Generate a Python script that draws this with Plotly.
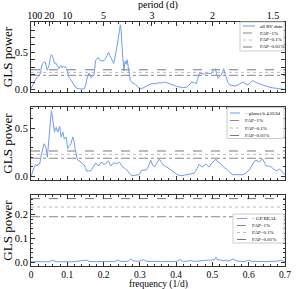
import plotly.graph_objects as go

# ---------------- data ----------------
freq_all = [0.000, 0.004, 0.008, 0.012, 0.017, 0.021, 0.026, 0.030, 0.034, 0.039, 0.042, 0.045, 0.048, 0.050,
            0.053, 0.056, 0.058, 0.060, 0.063, 0.065, 0.068, 0.071, 0.074, 0.077, 0.080, 0.083, 0.086, 0.089,
            0.092, 0.095, 0.098, 0.101, 0.104, 0.107, 0.110, 0.115, 0.120, 0.124, 0.130, 0.138, 0.147, 0.151,
            0.154, 0.157, 0.160, 0.163, 0.166, 0.170, 0.174, 0.176, 0.178, 0.182, 0.186, 0.189, 0.192, 0.196,
            0.199, 0.202, 0.206, 0.210, 0.214, 0.217, 0.220, 0.224, 0.228, 0.231, 0.235, 0.238, 0.241, 0.244,
            0.246, 0.248, 0.250, 0.253, 0.256, 0.259, 0.262, 0.265, 0.268, 0.271, 0.274, 0.278, 0.283, 0.288,
            0.293, 0.298, 0.305, 0.312, 0.320, 0.328, 0.336, 0.344, 0.352, 0.360, 0.368, 0.376, 0.384, 0.392,
            0.400, 0.410, 0.420, 0.430, 0.438, 0.443, 0.450, 0.456, 0.460, 0.464, 0.468, 0.472, 0.476, 0.480,
            0.485, 0.490, 0.495, 0.500, 0.504, 0.508, 0.512, 0.516, 0.520, 0.524, 0.528, 0.531, 0.534, 0.538,
            0.543, 0.548, 0.555, 0.562, 0.570, 0.578, 0.584, 0.590, 0.598, 0.604, 0.611, 0.618, 0.625, 0.632,
            0.639, 0.648, 0.657, 0.668, 0.680, 0.690, 0.700]
power_all = [0.01, 0.05, 0.10, 0.13, 0.16, 0.18, 0.22, 0.33, 0.36, 0.37, 0.31, 0.26, 0.30, 0.33,
             0.42, 0.47, 0.46, 0.44, 0.38, 0.35, 0.36, 0.33, 0.30, 0.28, 0.31, 0.32, 0.29, 0.31,
             0.30, 0.31, 0.28, 0.22, 0.17, 0.15, 0.13, 0.09, 0.06, 0.02, 0.01, 0.005, 0.01, 0.06,
             0.14, 0.19, 0.22, 0.19, 0.16, 0.18, 0.20, 0.30, 0.39, 0.42, 0.43, 0.40, 0.38, 0.40,
             0.38, 0.40, 0.42, 0.46, 0.50, 0.46, 0.43, 0.38, 0.35, 0.42, 0.52, 0.58, 0.70, 0.80,
             0.87, 0.82, 0.62, 0.42, 0.25, 0.38, 0.34, 0.40, 0.30, 0.22, 0.12, 0.09, 0.08, 0.07,
             0.04, 0.02, 0.01, 0.03, 0.05, 0.07, 0.08, 0.075, 0.09, 0.085, 0.10, 0.09, 0.07, 0.06,
             0.04, 0.03, 0.025, 0.03, 0.07, 0.10, 0.09, 0.08, 0.15, 0.22, 0.21, 0.22, 0.20, 0.22,
             0.21, 0.22, 0.21, 0.23, 0.26, 0.28, 0.20, 0.15, 0.18, 0.19, 0.24, 0.28, 0.22, 0.15,
             0.09, 0.06, 0.05, 0.045, 0.06, 0.08, 0.10, 0.08, 0.06, 0.09, 0.12, 0.10, 0.08, 0.07,
             0.06, 0.04, 0.03, 0.02, 0.015, 0.01, 0.0]

freq_b = [0.000, 0.004, 0.008, 0.013, 0.017, 0.020, 0.024, 0.027, 0.030, 0.033, 0.036, 0.039, 0.042, 0.045,
          0.048, 0.050, 0.053, 0.056, 0.058, 0.061, 0.063, 0.065, 0.067, 0.070, 0.072, 0.074, 0.077, 0.079,
          0.081, 0.083, 0.086, 0.088, 0.090, 0.092, 0.095, 0.097, 0.099, 0.101, 0.104, 0.106, 0.110, 0.113,
          0.115, 0.117, 0.119, 0.122, 0.124, 0.127, 0.129, 0.133, 0.138, 0.142, 0.147, 0.150, 0.154, 0.159,
          0.165, 0.170, 0.174, 0.178, 0.182, 0.187, 0.191, 0.196, 0.200, 0.205, 0.209, 0.214, 0.217, 0.220,
          0.224, 0.228, 0.232, 0.237, 0.241, 0.246, 0.250, 0.255, 0.260, 0.264, 0.270, 0.277, 0.284, 0.291,
          0.298, 0.305, 0.312, 0.318, 0.323, 0.330, 0.335, 0.340, 0.345, 0.350, 0.354, 0.359, 0.364, 0.368,
          0.374, 0.381, 0.390, 0.400, 0.407, 0.414, 0.423, 0.432, 0.441, 0.450, 0.457, 0.464, 0.468, 0.473,
          0.478, 0.482, 0.487, 0.492, 0.498, 0.504, 0.510, 0.515, 0.520, 0.524, 0.530, 0.538, 0.546, 0.556,
          0.565, 0.575, 0.584, 0.593, 0.602, 0.608, 0.614, 0.620, 0.625, 0.629, 0.634, 0.639, 0.644, 0.648,
          0.655, 0.662, 0.668, 0.676, 0.681, 0.685, 0.690, 0.695, 0.700]
power_b = [0.00, 0.05, 0.09, 0.126, 0.11, 0.13, 0.13, 0.20, 0.27, 0.30, 0.34, 0.31, 0.29, 0.20,
           0.33, 0.41, 0.55, 0.68, 0.64, 0.58, 0.50, 0.46, 0.50, 0.51, 0.47, 0.46, 0.50, 0.52,
           0.46, 0.41, 0.44, 0.46, 0.42, 0.39, 0.40, 0.41, 0.35, 0.29, 0.31, 0.32, 0.34, 0.38,
           0.41, 0.39, 0.36, 0.28, 0.22, 0.19, 0.17, 0.16, 0.15, 0.13, 0.12, 0.09, 0.056, 0.06,
           0.06, 0.09, 0.11, 0.14, 0.13, 0.11, 0.14, 0.15, 0.13, 0.13, 0.15, 0.16, 0.13, 0.11,
           0.13, 0.14, 0.14, 0.13, 0.15, 0.14, 0.11, 0.09, 0.08, 0.07, 0.04, 0.01, 0.012, 0.015,
           0.02, 0.065, 0.07, 0.07, 0.10, 0.17, 0.12, 0.10, 0.13, 0.16, 0.18, 0.15, 0.12, 0.11,
           0.10, 0.08, 0.05, 0.03, 0.015, 0.01, 0.015, 0.02, 0.025, 0.035, 0.08, 0.13, 0.11, 0.10,
           0.12, 0.13, 0.11, 0.10, 0.14, 0.16, 0.18, 0.15, 0.14, 0.13, 0.10, 0.08, 0.05, 0.02,
           0.02, 0.02, 0.02, 0.04, 0.07, 0.11, 0.15, 0.17, 0.16, 0.15, 0.17, 0.18, 0.14, 0.11,
           0.11, 0.10, 0.08, 0.06, 0.07, 0.08, 0.06, 0.04, 0.02]

freq_gp = [0.000, 0.010, 0.020, 0.030, 0.040, 0.050, 0.060, 0.065, 0.070, 0.080, 0.090, 0.100, 0.110, 0.120,
           0.130, 0.140, 0.155, 0.160, 0.170, 0.180, 0.190, 0.200, 0.210, 0.220, 0.230, 0.240, 0.245, 0.250,
           0.260, 0.270, 0.275, 0.280, 0.290, 0.300, 0.310, 0.315, 0.320, 0.330, 0.340, 0.350, 0.360, 0.370,
           0.380, 0.390, 0.400, 0.410, 0.415, 0.420, 0.430, 0.440, 0.450, 0.460, 0.470, 0.480, 0.490, 0.495,
           0.500, 0.505, 0.510, 0.515, 0.520, 0.530, 0.535, 0.540, 0.550, 0.555, 0.560, 0.570, 0.580, 0.590,
           0.600, 0.605, 0.610, 0.620, 0.630, 0.640, 0.650, 0.660, 0.670, 0.680, 0.690, 0.695, 0.700]
power_gp = [0.003, 0.004, 0.003, 0.004, 0.003, 0.004, 0.009, 0.005, 0.004, 0.003, 0.005, 0.004, 0.003, 0.005,
            0.004, 0.006, 0.010, 0.005, 0.003, 0.004, 0.005, 0.003, 0.004, 0.005, 0.004, 0.011, 0.006, 0.005,
            0.004, 0.008, 0.016, 0.007, 0.005, 0.006, 0.013, 0.007, 0.005, 0.006, 0.004, 0.005, 0.004, 0.006,
            0.005, 0.004, 0.005, 0.012, 0.007, 0.004, 0.006, 0.008, 0.005, 0.006, 0.005, 0.009, 0.011, 0.008,
            0.013, 0.010, 0.022, 0.010, 0.012, 0.007, 0.011, 0.006, 0.009, 0.015, 0.012, 0.006, 0.005, 0.004,
            0.010, 0.006, 0.004, 0.005, 0.004, 0.005, 0.004, 0.005, 0.004, 0.006, 0.010, 0.006, 0.003]

fap_levels = [0.19, 0.23, 0.265]
fap_labels = ["FAP=1%", "FAP=0.1%", "FAP=0.01%"]
series_labels = ["all RV data", "\u2212 planet b 4.053d", "\u2212 GP REAL"]
period_ticks = [100, 20, 10, 5, 3, 2, 1.5]
period_labels = ["100", "20", "10", "5", "3", "2", "1.5"]

# ---------------- styles / layout ----------------
FONT = "Liberation Serif"
BLUE = "#6f9cf0"
fap_styles = [dict(color="#888888", dash="dashdot", width=1),
              dict(color="#bbbbbb", dash="dot", width=1),
              dict(color="#777777", dash="dash", width=1)]
W, H = 296, 289
ML, MR, MT, MB = 31, 11, 22, 23
PW, PH = W - ML - MR, H - MT - MB


def xp(px):
    return (px - ML) / PW


def yp(py):
    return (H - MB - py) / PH


fig = go.Figure()

panels = [(freq_all, power_all, "x", "y"),
          (freq_b, power_b, "x2", "y2"),
          (freq_gp, power_gp, "x3", "y3")]
for i, (fx, pw, xa, ya) in enumerate(panels):
    for lvl, st in zip(fap_levels, fap_styles):
        fig.add_trace(go.Scatter(x=[fx[0], fx[-1]], y=[lvl, lvl], mode="lines", xaxis=xa, yaxis=ya,
                                 line=st, showlegend=False, hoverinfo="skip"))
    fig.add_trace(go.Scatter(x=fx, y=pw, mode="lines", xaxis=("x4" if i == 0 else xa), yaxis=ya,
                             line=dict(color=BLUE, width=1), showlegend=False, hoverinfo="skip"))

TICKFONT = dict(family=FONT, size=10.5, color="black")
XTICKFONT = dict(family=FONT, size=10, color="black")
axis_common = dict(showline=True, linecolor="#333333", linewidth=1, mirror="allticks",
                   ticks="inside", ticklen=4, tickcolor="#333333", showgrid=False, zeroline=False,
                   tickfont=TICKFONT, tickangle=0)

dom1 = [yp(92), 1.0]
dom2 = [yp(180), yp(107)]
dom3 = [0.0, yp(195)]

xmin, xmax = 0.0, 0.7
xminor = dict(ticks="inside", ticklen=2, dtick=0.02, tickcolor="#333333")

fig.update_layout(
    width=W, height=H,
    margin=dict(l=ML, r=MR, t=MT, b=MB, autoexpand=False),
    paper_bgcolor="white", plot_bgcolor="white",
    font=dict(family=FONT, color="black"),
    showlegend=False,
    xaxis=dict(axis_common, domain=[0, 1], anchor="y", range=[xmin, xmax], dtick=0.1,
               showticklabels=False, minor=xminor),
    xaxis2=dict(axis_common, domain=[0, 1], anchor="y2", range=[xmin, xmax], dtick=0.1,
                showticklabels=False, minor=xminor),
    xaxis3=dict(axis_common, domain=[0, 1], anchor="y3", range=[xmin, xmax], dtick=0.1,
                tick0=0, minor=xminor, tickfont=dict(family=FONT, size=9.5, color="black")),
    xaxis4=dict(axis_common, overlaying="x", side="top", anchor="y", range=[xmin, xmax],
                tickmode="array", tickvals=[1.0 / p for p in period_ticks], ticktext=period_labels,
                mirror=False, showline=False, tickfont=XTICKFONT),
    yaxis=dict(axis_common, domain=dom1, anchor="x", range=[-0.035, 0.91], dtick=0.5,
               tickformat=".1f", minor=dict(ticks="inside", ticklen=2, dtick=0.1, tickcolor="#333333"),
               title=dict(text="GLS power", font=dict(family=FONT, size=13), standoff=2)),
    yaxis2=dict(axis_common, domain=dom2, anchor="x2", range=[-0.035, 0.72], dtick=0.5,
                tickformat=".1f", minor=dict(ticks="inside", ticklen=2, dtick=0.1, tickcolor="#333333"),
                title=dict(text="GLS power", font=dict(family=FONT, size=13), standoff=2)),
    yaxis3=dict(axis_common, domain=dom3, anchor="x3", range=[-0.014, 0.28], dtick=0.1,
                tickformat=".1f", minor=dict(ticks="inside", ticklen=2, dtick=0.02, tickcolor="#333333"),
                title=dict(text="GLS power", font=dict(family=FONT, size=13), standoff=2)),
)

shapes, annots = [], []
# x axis titles (placed tightly like the reference)
annots.append(dict(xref="paper", yref="paper", x=0.5, y=yp(5.0), text="period (d)", showarrow=False,
                   xanchor="center", yanchor="middle", font=dict(family=FONT, size=10, color="black")))
annots.append(dict(xref="paper", yref="paper", x=0.5, y=yp(284.9), text="frequency (1/d)", showarrow=False,
                   xanchor="center", yanchor="middle", font=dict(family=FONT, size=9.5, color="black")))

# ---- compact matplotlib-style legends (box, sample lines, labels) ----
legend_boxes = [
    dict(box=(240, 284, 22, 51), rows=(26, 33, 40, 47), line=(243, 255), text=258),
    dict(box=(227, 284, 107.5, 138.5), rows=(113, 120.5, 128, 135.5), line=(230, 240), text=243),
    dict(box=(233, 284, 214, 243), rows=(218.5, 225.5, 232.5, 239.5), line=(237, 247), text=250),
]
for i, lb in enumerate(legend_boxes):
    x0, x1, y0, y1 = lb["box"]
    shapes.append(dict(type="rect", xref="paper", yref="paper", x0=xp(x0), x1=xp(x1), y0=yp(y1), y1=yp(y0),
                       fillcolor="white", line=dict(color="#cccccc", width=1), layer="above"))
    labels = [series_labels[i]] + fap_labels
    styles = [dict(color=BLUE, width=1)] + fap_styles
    for ry, lab, st in zip(lb["rows"], labels, styles):
        shapes.append(dict(type="line", xref="paper", yref="paper", x0=xp(lb["line"][0]), x1=xp(lb["line"][1]),
                           y0=yp(ry), y1=yp(ry), line=st, layer="above"))
        annots.append(dict(xref="paper", yref="paper", x=xp(lb["text"]), y=yp(ry), text=lab, showarrow=False,
                           xanchor="left", yanchor="middle", font=dict(family=FONT, size=5, color="black")))
fig.update_layout(shapes=shapes, annotations=annots)

fig.write_html("out.html", config={"displayModeBar": False},
               post_script="document.body.style.margin='0';document.body.style.overflow='hidden';")
